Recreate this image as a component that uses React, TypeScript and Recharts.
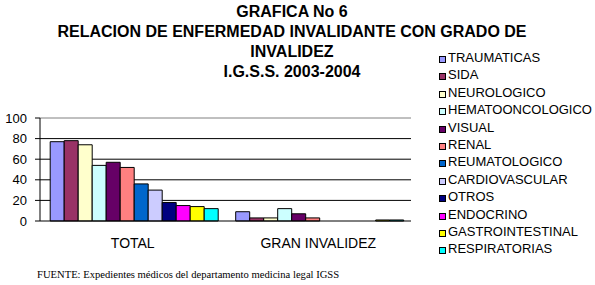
import React from "react";
import { BarChart, Bar, XAxis, YAxis, CartesianGrid, ReferenceLine } from "recharts";

const categories = ["TOTAL", "GRAN INVALIDEZ"];
const seriesNames = [
  "TRAUMATICAS",
  "SIDA",
  "NEUROLOGICO",
  "HEMATOONCOLOGICO",
  "VISUAL",
  "RENAL",
  "REUMATOLOGICO",
  "CARDIOVASCULAR",
  "OTROS",
  "ENDOCRINO",
  "GASTROINTESTINAL",
  "RESPIRATORIAS",
];
const totalValues = [77, 78, 74, 54, 57, 52, 36, 30, 18, 15, 14, 12];
const granInvalidezValues = [9, 3, 3, 12, 7, 3, 0, 0, 0, 0, 1, 1];
const seriesColors = [
  "#9999FF",
  "#993366",
  "#FFFFCC",
  "#CCFFFF",
  "#660066",
  "#FF8080",
  "#0066CC",
  "#CCCCFF",
  "#000080",
  "#FF00FF",
  "#FFFF00",
  "#00FFFF",
];
const yTicks = [0, 20, 40, 60, 80, 100];
const titleLines = [
  "GRAFICA No 6",
  "RELACION DE ENFERMEDAD INVALIDANTE CON GRADO DE",
  "INVALIDEZ",
  "I.G.S.S. 2003-2004",
];
const sourceNote = "FUENTE: Expedientes médicos del departamento medicina legal IGSS";

const valueRows = [totalValues, granInvalidezValues];
const data = categories.map((cat, ci) => {
  const row: Record<string, string | number> = { category: cat };
  seriesNames.forEach((s, si) => {
    row[s] = valueRows[ci][si];
  });
  return row;
});

const font = "Arial, 'Liberation Sans', sans-serif";

export default function App() {
  return (
    <div
      style={{
        position: "absolute",
        left: 0,
        top: 0,
        width: 595,
        height: 285,
        background: "#fff",
        fontFamily: font,
        overflow: "hidden",
      }}
    >
      <div style={{ position: "absolute", left: 0, top: 0 }}>
        <BarChart
          width={595}
          height={285}
          data={data}
          margin={{ top: 118, right: 184, bottom: 34, left: 0 }}
          barCategoryGap="5.5%"
          barGap={0}
        >
          <CartesianGrid vertical={false} stroke="#000" strokeOpacity={1} horizontalValues={[20, 40, 60, 80]} />
          <ReferenceLine y={100} stroke="#808080" ifOverflow="extendDomain" />
          <XAxis
            dataKey="category"
            height={30}
            axisLine={{ stroke: "#000" }}
            tickLine={false}
            tick={{ fill: "#000", fontSize: 14, fontFamily: font }}
            tickMargin={11}
            interval={0}
          />
          <XAxis
            xAxisId="bounds"
            type="number"
            domain={[0, 2]}
            ticks={[0, 1, 2]}
            height={0}
            axisLine={false}
            tickLine={{ stroke: "#000" }}
            tickSize={5}
            tick={false}
          />
          <YAxis
            domain={[0, 100]}
            ticks={yTicks}
            width={40}
            axisLine={{ stroke: "#000" }}
            tickLine={{ stroke: "#000" }}
            tickSize={5}
            tickMargin={8}
            tick={{ fill: "#000", fontSize: 13, fontFamily: font }}
            interval={0}
          />
          <YAxis
            yAxisId="right"
            orientation="right"
            domain={[0, 100]}
            width={0}
            axisLine={{ stroke: "#808080" }}
            tickLine={false}
            tick={false}
          />
          {seriesNames.map((s, i) => (
            <Bar
              key={s}
              dataKey={s}
              fill={seriesColors[i]}
              stroke="#000"
              strokeWidth={1}
              isAnimationActive={false}
            />
          ))}
        </BarChart>
      </div>

      {titleLines.map((t, i) => (
        <div
          key={i}
          style={{
            position: "absolute",
            left: 42,
            width: 500,
            top: 3 + i * 20,
            textAlign: "center",
            fontWeight: "bold",
            fontSize: 16,
            lineHeight: "18px",
            color: "#000",
            whiteSpace: "nowrap",
          }}
        >
          {t}
        </div>
      ))}

      <div style={{ position: "absolute", left: 439, top: 50 }}>
        {seriesNames.map((s, i) => (
          <div
            key={s}
            style={{
              position: "absolute",
              left: 0,
              top: i * 17.4,
              height: 15,
              whiteSpace: "nowrap",
              fontSize: 13,
              lineHeight: "15px",
              color: "#000",
            }}
          >
            <span
              style={{
                display: "inline-block",
                width: 5,
                height: 5,
                background: seriesColors[i],
                border: "1px solid #000",
                marginRight: 2,
                verticalAlign: "-1px",
              }}
            />
            {s}
          </div>
        ))}
      </div>

      <div
        style={{
          position: "absolute",
          left: 37,
          top: 268,
          fontFamily: "'Times New Roman', 'Liberation Serif', serif",
          fontSize: 10.6,
          lineHeight: "13px",
          color: "#000",
          whiteSpace: "nowrap",
        }}
      >
        {sourceNote}
      </div>
    </div>
  );
}
